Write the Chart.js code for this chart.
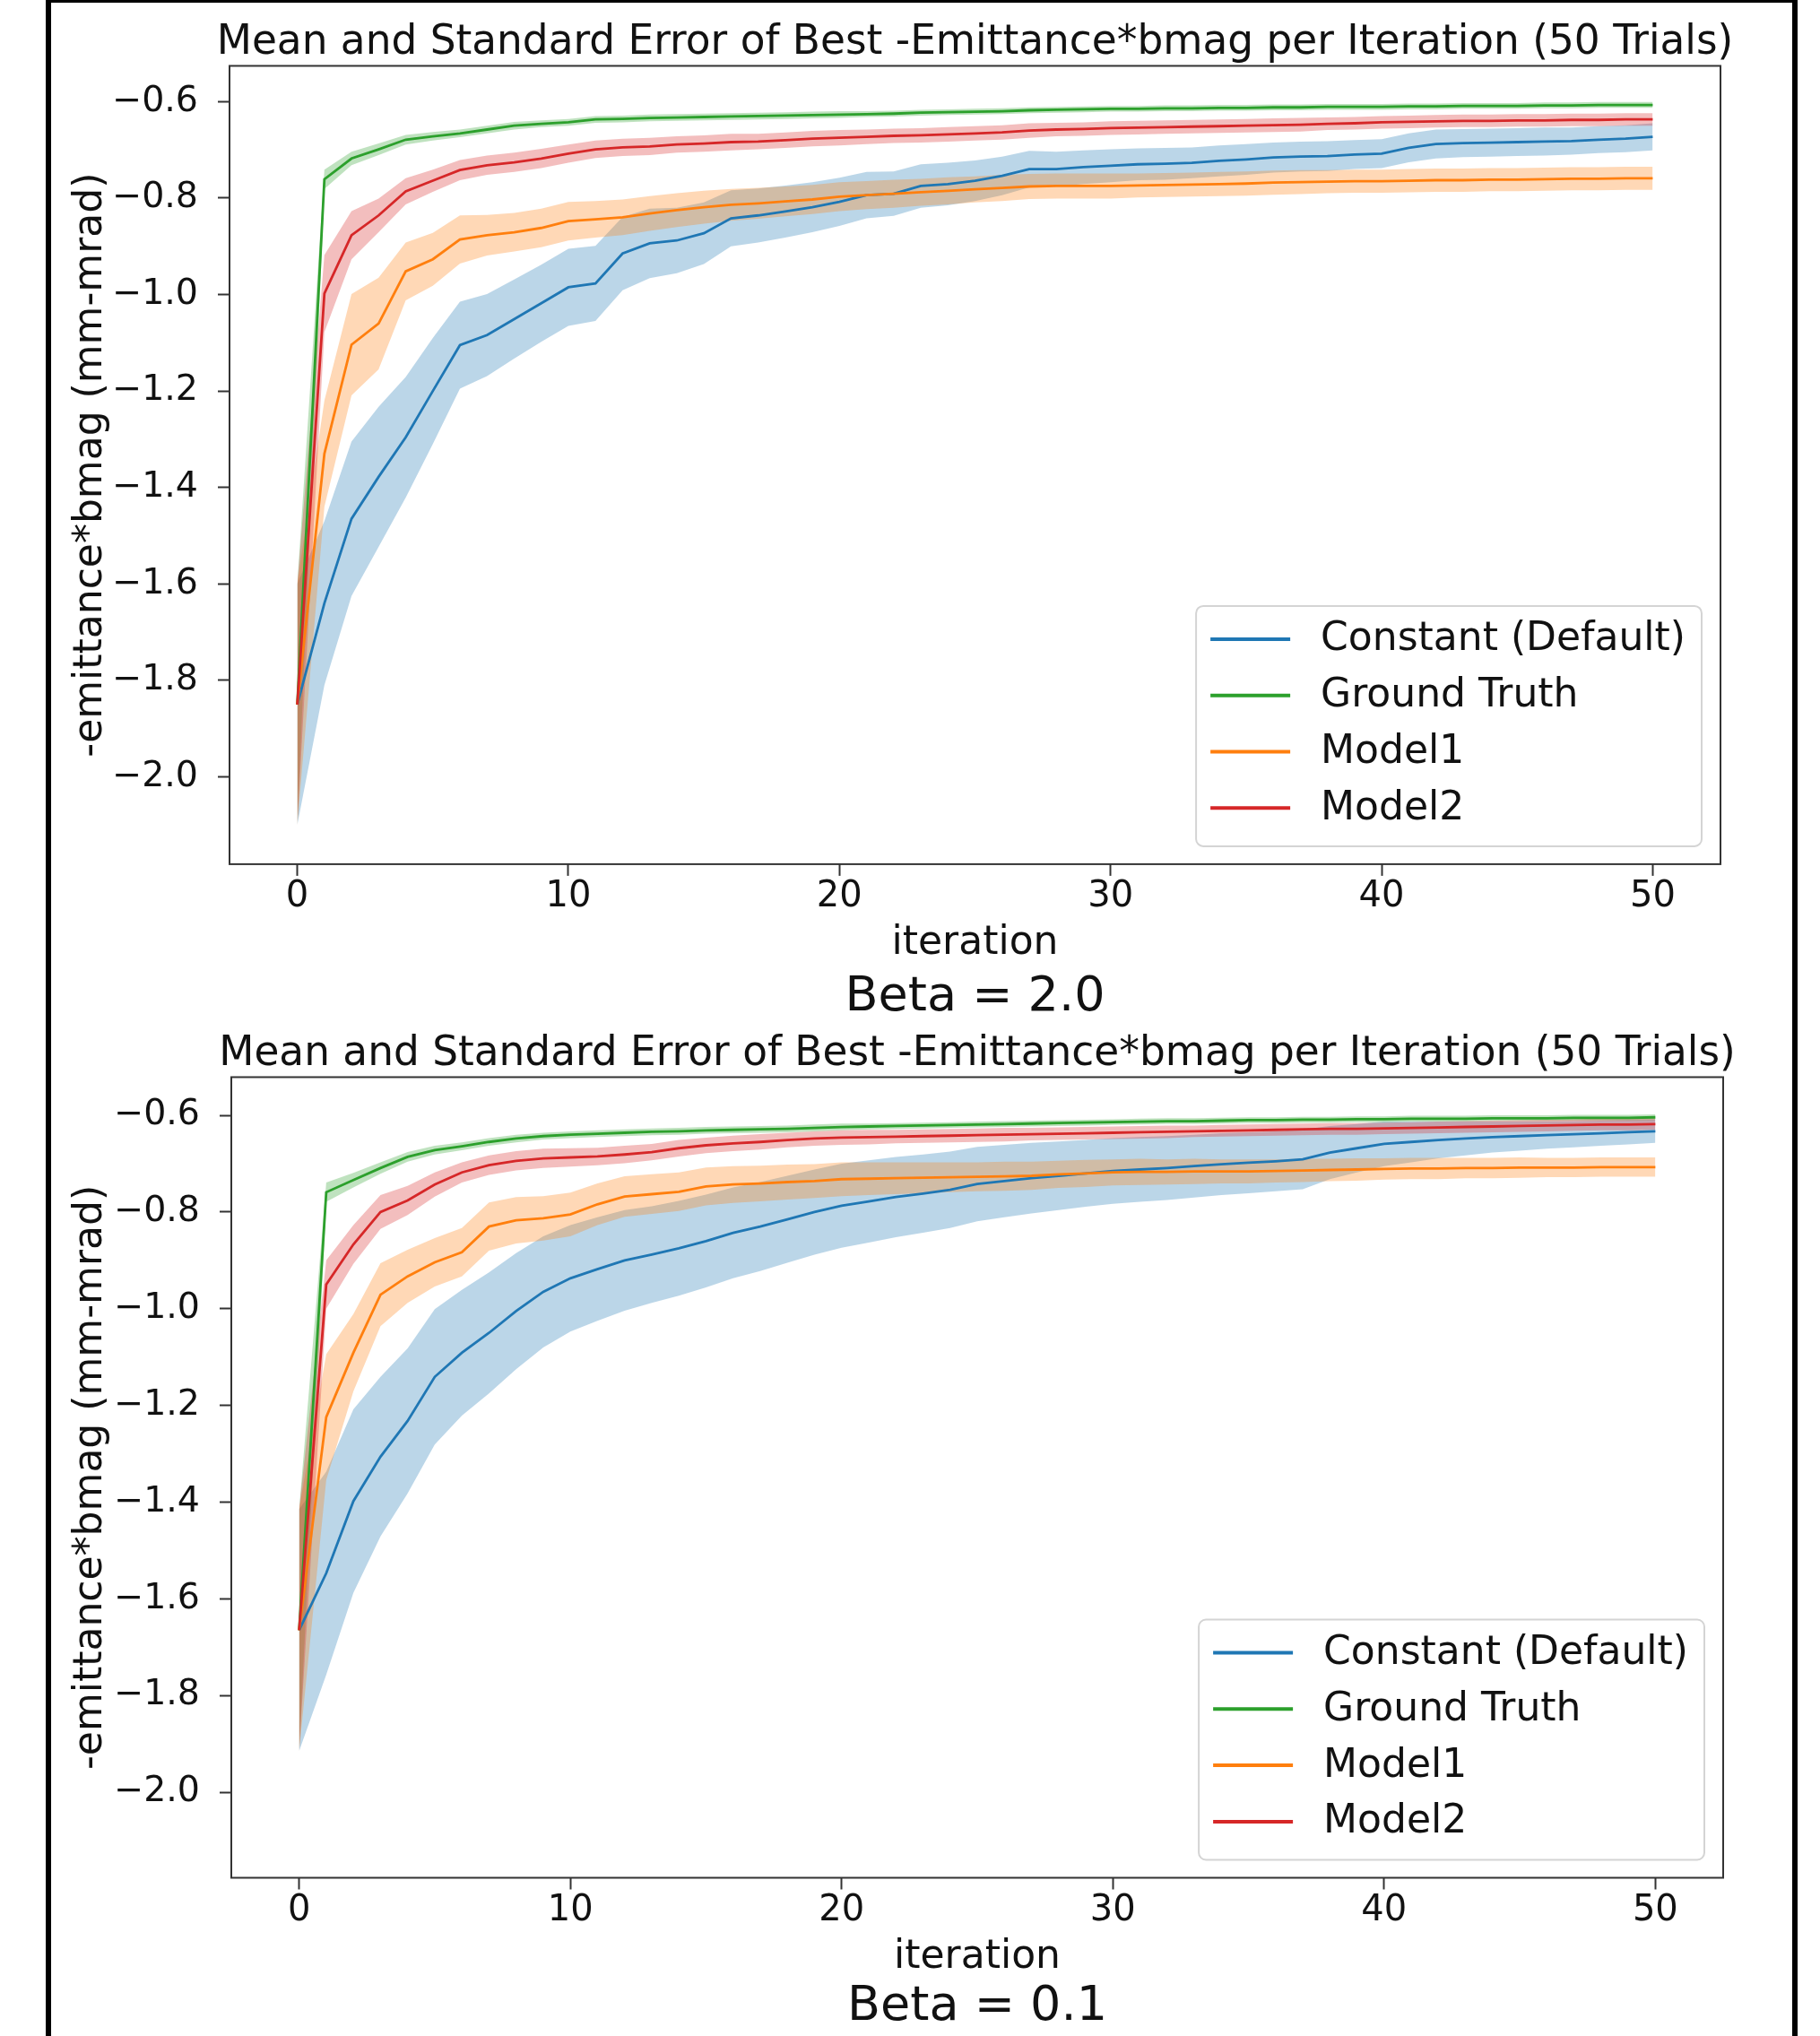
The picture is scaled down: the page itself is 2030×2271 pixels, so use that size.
<!DOCTYPE html>
<html>
<head>
<meta charset="utf-8">
<script src="https://cdn.jsdelivr.net/npm/chart.js@4.4.0/dist/chart.umd.min.js"></script>
<style>
html,body{margin:0;padding:0;background:#fff;width:2030px;height:2271px;overflow:hidden;}
#frame{position:absolute;left:51px;top:-3px;width:1942px;height:2300px;border:6px solid #000;}
canvas{position:absolute;left:0;}
#c1{top:0;width:2030px;height:1145px;}
#c2{top:1140px;width:2030px;height:1131px;}
</style>
</head>
<body>
<div id="frame"></div>
<canvas id="c1" width="2030" height="1145"></canvas>
<canvas id="c2" width="2030" height="1131"></canvas>
<script>
// ---------- data ----------
const iterations = [0,1,2,3,4,5,6,7,8,9,10,11,12,13,14,15,16,17,18,19,20,21,22,23,24,25,26,27,28,29,30,31,32,33,34,35,36,37,38,39,40,41,42,43,44,45,46,47,48,49,50];
const seriesNames = ['Constant (Default)','Ground Truth','Model1','Model2'];
const xTicks = [0,10,20,30,40,50];
const yTicks = [-2.0,-1.8,-1.6,-1.4,-1.2,-1.0,-0.8,-0.6];
const chartTitle = 'Mean and Standard Error of Best -Emittance*bmag per Iteration (50 Trials)';
const xLabel = 'iteration';
const yLabel = '-emittance*bmag (mm-mrad)';
const betaLabels = ['Beta = 2.0','Beta = 0.1'];

// Beta = 2.0
const const2Mean = [-1.850,-1.640,-1.465,-1.378,-1.296,-1.200,-1.105,-1.084,-1.051,-1.018,-0.985,-0.977,-0.915,-0.894,-0.888,-0.873,-0.842,-0.836,-0.828,-0.819,-0.808,-0.794,-0.791,-0.775,-0.771,-0.764,-0.754,-0.740,-0.740,-0.736,-0.733,-0.730,-0.729,-0.727,-0.723,-0.720,-0.716,-0.714,-0.713,-0.710,-0.708,-0.696,-0.688,-0.686,-0.685,-0.684,-0.683,-0.682,-0.679,-0.677,-0.673];
const const2Se = [0.250,0.170,0.160,0.145,0.125,0.110,0.090,0.085,0.082,0.080,0.080,0.078,0.076,0.072,0.068,0.064,0.058,0.056,0.054,0.052,0.050,0.048,0.046,0.045,0.044,0.042,0.040,0.038,0.036,0.035,0.034,0.033,0.033,0.032,0.032,0.032,0.031,0.031,0.031,0.030,0.030,0.030,0.030,0.029,0.029,0.029,0.029,0.028,0.028,0.028,0.028];
const truth2Mean = [-1.850,-0.761,-0.718,-0.699,-0.679,-0.672,-0.666,-0.658,-0.650,-0.646,-0.643,-0.637,-0.636,-0.634,-0.633,-0.632,-0.631,-0.630,-0.629,-0.628,-0.627,-0.626,-0.625,-0.623,-0.622,-0.621,-0.620,-0.618,-0.617,-0.616,-0.615,-0.615,-0.614,-0.614,-0.613,-0.613,-0.612,-0.612,-0.611,-0.611,-0.611,-0.610,-0.610,-0.609,-0.609,-0.609,-0.608,-0.608,-0.607,-0.607,-0.607];
const truth2Se = [0.250,0.020,0.014,0.012,0.010,0.009,0.008,0.008,0.008,0.007,0.007,0.007,0.007,0.007,0.007,0.007,0.007,0.007,0.007,0.007,0.007,0.006,0.006,0.006,0.006,0.006,0.006,0.006,0.006,0.006,0.006,0.006,0.006,0.006,0.006,0.006,0.006,0.006,0.006,0.006,0.006,0.006,0.006,0.006,0.006,0.006,0.006,0.006,0.006,0.006,0.006];
const model1_2Mean = [-1.850,-1.330,-1.104,-1.060,-0.952,-0.927,-0.886,-0.877,-0.871,-0.862,-0.848,-0.844,-0.840,-0.832,-0.825,-0.819,-0.814,-0.811,-0.807,-0.803,-0.797,-0.794,-0.791,-0.788,-0.785,-0.782,-0.779,-0.776,-0.775,-0.775,-0.775,-0.774,-0.773,-0.772,-0.771,-0.770,-0.768,-0.767,-0.766,-0.765,-0.765,-0.764,-0.763,-0.763,-0.762,-0.762,-0.761,-0.760,-0.760,-0.759,-0.759];
const model1_2Se = [0.250,0.110,0.105,0.095,0.060,0.055,0.050,0.042,0.040,0.040,0.040,0.038,0.037,0.036,0.035,0.034,0.033,0.032,0.031,0.030,0.030,0.029,0.029,0.028,0.028,0.027,0.027,0.026,0.026,0.026,0.026,0.025,0.025,0.025,0.025,0.025,0.025,0.025,0.024,0.024,0.024,0.024,0.024,0.024,0.024,0.024,0.024,0.024,0.024,0.024,0.024];
const model2_2Mean = [-1.850,-0.998,-0.877,-0.836,-0.786,-0.764,-0.742,-0.732,-0.726,-0.718,-0.708,-0.699,-0.695,-0.693,-0.689,-0.687,-0.684,-0.683,-0.680,-0.677,-0.675,-0.673,-0.671,-0.670,-0.668,-0.666,-0.664,-0.660,-0.658,-0.657,-0.655,-0.654,-0.653,-0.652,-0.651,-0.650,-0.649,-0.648,-0.646,-0.645,-0.643,-0.642,-0.641,-0.640,-0.640,-0.639,-0.639,-0.638,-0.638,-0.637,-0.637];
const model2_2Se = [0.250,0.080,0.050,0.035,0.027,0.023,0.021,0.020,0.020,0.020,0.019,0.018,0.018,0.018,0.017,0.017,0.017,0.016,0.016,0.016,0.016,0.015,0.015,0.015,0.015,0.015,0.015,0.015,0.014,0.014,0.014,0.014,0.014,0.014,0.014,0.014,0.014,0.014,0.013,0.013,0.013,0.013,0.013,0.013,0.013,0.013,0.013,0.013,0.013,0.013,0.013];

// Beta = 0.1
const const01Mean = [-1.665,-1.547,-1.398,-1.306,-1.232,-1.141,-1.091,-1.050,-1.005,-0.965,-0.937,-0.918,-0.900,-0.888,-0.875,-0.860,-0.843,-0.830,-0.815,-0.800,-0.787,-0.778,-0.769,-0.762,-0.754,-0.742,-0.736,-0.730,-0.725,-0.720,-0.715,-0.712,-0.709,-0.705,-0.701,-0.698,-0.695,-0.691,-0.677,-0.668,-0.659,-0.655,-0.651,-0.648,-0.645,-0.643,-0.641,-0.639,-0.637,-0.635,-0.633];
const const01Se = [0.250,0.210,0.190,0.165,0.150,0.140,0.130,0.125,0.120,0.115,0.110,0.107,0.104,0.100,0.098,0.096,0.094,0.092,0.090,0.088,0.087,0.085,0.083,0.081,0.079,0.077,0.075,0.073,0.071,0.069,0.068,0.067,0.066,0.065,0.064,0.063,0.062,0.062,0.055,0.050,0.046,0.042,0.038,0.035,0.032,0.030,0.028,0.027,0.026,0.025,0.024];
const truth01Mean = [-1.665,-0.759,-0.734,-0.709,-0.686,-0.672,-0.664,-0.655,-0.648,-0.643,-0.640,-0.638,-0.636,-0.634,-0.633,-0.631,-0.630,-0.629,-0.628,-0.626,-0.624,-0.623,-0.622,-0.621,-0.620,-0.619,-0.618,-0.617,-0.616,-0.615,-0.614,-0.613,-0.612,-0.612,-0.611,-0.610,-0.610,-0.609,-0.609,-0.608,-0.608,-0.607,-0.607,-0.607,-0.606,-0.606,-0.606,-0.605,-0.605,-0.605,-0.604];
const truth01Se = [0.250,0.020,0.015,0.012,0.010,0.009,0.008,0.008,0.008,0.007,0.007,0.007,0.007,0.007,0.007,0.007,0.007,0.007,0.007,0.007,0.007,0.006,0.006,0.006,0.006,0.006,0.006,0.006,0.006,0.006,0.006,0.006,0.006,0.006,0.006,0.006,0.006,0.006,0.006,0.006,0.006,0.006,0.006,0.006,0.006,0.006,0.006,0.006,0.006,0.006,0.006];
const model1_01Mean = [-1.665,-1.224,-1.091,-0.971,-0.933,-0.904,-0.883,-0.830,-0.817,-0.813,-0.805,-0.784,-0.768,-0.763,-0.758,-0.747,-0.743,-0.741,-0.738,-0.736,-0.732,-0.731,-0.730,-0.729,-0.728,-0.727,-0.726,-0.725,-0.722,-0.720,-0.718,-0.717,-0.717,-0.716,-0.716,-0.716,-0.715,-0.714,-0.713,-0.712,-0.711,-0.710,-0.710,-0.709,-0.709,-0.708,-0.708,-0.708,-0.707,-0.707,-0.707];
const model1_01Se = [0.250,0.130,0.080,0.065,0.055,0.050,0.050,0.050,0.048,0.046,0.045,0.043,0.042,0.041,0.040,0.039,0.038,0.037,0.036,0.035,0.035,0.034,0.033,0.032,0.031,0.030,0.030,0.029,0.028,0.028,0.027,0.027,0.026,0.026,0.025,0.025,0.024,0.024,0.023,0.023,0.022,0.022,0.022,0.021,0.021,0.021,0.020,0.020,0.020,0.020,0.020];
const model2_01Mean = [-1.665,-0.950,-0.867,-0.800,-0.776,-0.743,-0.718,-0.703,-0.694,-0.689,-0.687,-0.685,-0.681,-0.676,-0.668,-0.662,-0.658,-0.655,-0.651,-0.648,-0.646,-0.645,-0.644,-0.643,-0.642,-0.641,-0.640,-0.639,-0.638,-0.637,-0.636,-0.635,-0.634,-0.633,-0.632,-0.631,-0.630,-0.629,-0.628,-0.628,-0.627,-0.626,-0.625,-0.624,-0.623,-0.622,-0.621,-0.620,-0.619,-0.619,-0.618];
const model2_01Se = [0.250,0.050,0.040,0.035,0.030,0.025,0.021,0.020,0.020,0.020,0.019,0.018,0.018,0.017,0.017,0.016,0.016,0.016,0.015,0.015,0.015,0.015,0.014,0.014,0.014,0.014,0.014,0.013,0.013,0.013,0.013,0.013,0.013,0.012,0.012,0.012,0.012,0.012,0.012,0.012,0.012,0.012,0.012,0.012,0.012,0.012,0.012,0.012,0.012,0.012,0.012];

// ---------- styling ----------
const FONT = 'DejaVu Sans';
const lineColors = ['#1f77b4','#2ca02c','#ff7f0e','#d62728'];
const fillColors = ['rgba(31,119,180,0.3)','rgba(44,160,44,0.3)','rgba(255,127,14,0.3)','rgba(214,39,40,0.3)'];

function fmtTick(v){ return (v < 0 ? '\u2212' : '') + Math.abs(v).toFixed(1); }

function buildDatasets(means, ses){
  const ds = [];
  means.forEach((m, s) => {
    const se = ses[s];
    ds.push({ label: seriesNames[s], legendEntry: true,
      data: iterations.map((x, i) => ({x, y: m[i]})),
      borderColor: lineColors[s], borderWidth: 2.8, pointRadius: 0, fill: false,
      tension: 0, order: 4 - s });
    ds.push({ label: seriesNames[s] + ' upper',
      data: iterations.map((x, i) => ({x, y: m[i] + se[i]})),
      borderColor: 'rgba(0,0,0,0)', borderWidth: 0, pointRadius: 0,
      backgroundColor: fillColors[s], fill: '+1', tension: 0, order: 8 - s });
    ds.push({ label: seriesNames[s] + ' lower',
      data: iterations.map((x, i) => ({x, y: m[i] - se[i]})),
      borderColor: 'rgba(0,0,0,0)', borderWidth: 0, pointRadius: 0,
      fill: false, tension: 0, order: 9 });
  });
  return ds;
}

// let the title (centred over the axes) overhang the plot width, as in matplotlib
const titleWidthPlugin = {
  id: 'wideTitle',
  afterLayout(chart){
    const t = chart.titleBlock;
    if (t) { t.left -= 80; t.right += 80; }
  }
};

const framePlugin = {
  id: 'axesFrame',
  afterDatasetsDraw(chart){
    const {ctx, chartArea: a} = chart;
    ctx.save();
    ctx.strokeStyle = '#333';
    ctx.lineWidth = 2;
    ctx.strokeRect(a.left, a.top, a.right - a.left, a.bottom - a.top);
    ctx.restore();
  }
};

const legendPlugin = {
  id: 'boxLegend',
  afterDraw(chart){
    const {ctx, chartArea: a} = chart;
    const items = chart.data.datasets.filter(d => d.legendEntry);
    ctx.save();
    ctx.font = '44px "' + FONT + '"';
    const textW = Math.max(...items.map(it => ctx.measureText(it.label).width));
    const padL = 16, handle = 89, gap = 34, padR = 18, rowH = 62.8, h = 268;
    const w = padL + handle + gap + textW + padR;
    const x = a.right - 21 - w, y = a.bottom - 20 - h;
    ctx.beginPath();
    ctx.roundRect(x, y, w, h, 8);
    ctx.fillStyle = 'rgba(255,255,255,0.8)';
    ctx.fill();
    ctx.strokeStyle = '#d4d4d4';
    ctx.lineWidth = 2;
    ctx.stroke();
    items.forEach((it, k) => {
      const cy = y + 37 + k * rowH;
      ctx.beginPath();
      ctx.moveTo(x + padL, cy);
      ctx.lineTo(x + padL + handle, cy);
      ctx.strokeStyle = it.borderColor;
      ctx.lineWidth = 4;
      ctx.stroke();
      ctx.fillStyle = '#111';
      ctx.textBaseline = 'middle';
      ctx.textAlign = 'left';
      ctx.fillText(it.label, x + padL + handle + gap, cy + 1);
    });
    ctx.restore();
  }
};

function makeChart(canvasId, means, ses, cfg){
  const tickGrid = { display: true, drawOnChartArea: false, drawTicks: true,
    tickLength: 13, tickWidth: 2, tickColor: '#333', color: '#333' };
  return new Chart(document.getElementById(canvasId), {
    type: 'line',
    data: { datasets: buildDatasets(means, ses) },
    plugins: [titleWidthPlugin, framePlugin, legendPlugin],
    options: {
      responsive: false, animation: false, devicePixelRatio: 1,
      layout: { padding: { left: 60, right: cfg.padRight, top: 0, bottom: 0 } },
      plugins: {
        legend: { display: false },
        tooltip: { enabled: false },
        title: { display: true, text: chartTitle, fullSize: false, color: '#111',
          font: { family: FONT, size: 45.4, weight: 'normal' },
          padding: { top: cfg.titleTop, bottom: cfg.titleBottom } },
        subtitle: { display: true, position: 'bottom', text: cfg.beta, fullSize: false, color: '#111',
          font: { family: FONT, size: 54, weight: 'normal' },
          padding: { top: cfg.betaTop, bottom: 0 } }
      },
      scales: {
        x: { type: 'linear', min: -2.5, max: 52.5,
          afterBuildTicks: ax => { ax.ticks = xTicks.map(v => ({value: v})); },
          afterFit: sc => { sc.height = cfg.xH; },
          ticks: { font: { family: FONT, size: 40 }, color: '#111', padding: 0, maxRotation: 0,
            callback: v => String(v) },
          grid: tickGrid, border: { display: false },
          title: { display: true, text: xLabel, color: '#111', font: { family: FONT, size: 44 },
            padding: { top: 0, bottom: 0 } } },
        y: { type: 'linear', min: cfg.yMin, max: cfg.yMax,
          afterBuildTicks: ax => { ax.ticks = yTicks.map(v => ({value: v})); },
          afterFit: sc => { sc.width = cfg.yW; },
          ticks: { font: { family: FONT, size: 39.5 }, color: '#111', padding: 22,
            callback: v => fmtTick(v) },
          grid: tickGrid, border: { display: false },
          title: { display: true, text: yLabel, color: '#111', font: { family: FONT, size: 44 },
            padding: { top: 15.6, bottom: 0 } } }
      }
    }
  });
}

makeChart('c1',
  [const2Mean, truth2Mean, model1_2Mean, model2_2Mean],
  [const2Se, truth2Se, model1_2Se, model2_2Se],
  { yMin: -2.181, yMax: -0.526, padRight: 111, yW: 196, xH: 115.4,
    titleTop: 20.8, titleBottom: -1.8, betaTop: 0.9, beta: betaLabels[0] });

makeChart('c2',
  [const01Mean, truth01Mean, model1_01Mean, model2_01Mean],
  [const01Se, truth01Se, model1_01Se, model2_01Se],
  { yMin: -2.177, yMax: -0.521, padRight: 108, yW: 198, xH: 115.7,
    titleTop: 8.7, titleBottom: -1.7, betaTop: -4, beta: betaLabels[1] });
</script>
</body>
</html>
